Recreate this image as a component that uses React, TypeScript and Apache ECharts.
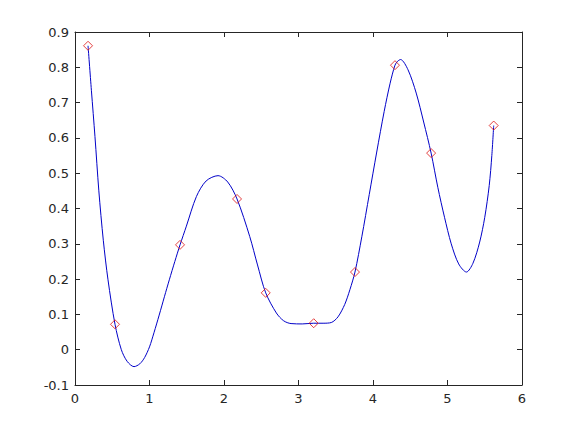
import React, { useEffect, useRef } from "react";
import * as echarts from "echarts";

const markerX = [0.175, 0.537, 1.41, 2.175, 2.56, 3.204, 3.758, 4.295, 4.78, 5.62];
const markerY = [0.861, 0.072, 0.297, 0.427, 0.161, 0.075, 0.22, 0.806, 0.557, 0.635];

const curveX = [
  0.175, 0.22, 0.268, 0.32, 0.38, 0.443, 0.537, 0.622, 0.7, 0.792, 0.87, 0.935, 1.0,
  1.06, 1.13, 1.2, 1.266, 1.34, 1.41, 1.495, 1.63, 1.76, 1.92, 2.05, 2.175, 2.345, 2.45,
  2.56, 2.703, 2.8, 2.9, 3.05, 3.204, 3.33, 3.44, 3.53, 3.62, 3.69, 3.758, 3.85, 3.95,
  4.05, 4.15, 4.23, 4.295, 4.33, 4.37, 4.47, 4.58, 4.68, 4.78, 4.87, 4.96, 5.05, 5.15,
  5.254, 5.342, 5.432, 5.5, 5.56, 5.595, 5.62,
];
const curveY = [
  0.861, 0.735, 0.604, 0.45, 0.31, 0.198, 0.072, 0.0, -0.033, -0.048, -0.04, -0.022, 0.008,
  0.048, 0.098, 0.15, 0.198, 0.25, 0.297, 0.35, 0.434, 0.478, 0.493, 0.475, 0.427, 0.321, 0.24,
  0.161, 0.104, 0.082, 0.074, 0.073, 0.075, 0.075, 0.077, 0.093, 0.128, 0.17, 0.22, 0.32, 0.44,
  0.56, 0.675, 0.755, 0.806, 0.817, 0.822, 0.793, 0.727, 0.645, 0.557, 0.46, 0.375, 0.3, 0.243,
  0.22, 0.245, 0.305, 0.375, 0.465, 0.55, 0.635,
];

const xTicks = { min: 0, max: 6, interval: 1 };
const yTicks = { min: -0.1, max: 0.9, interval: 0.1 };

export default function App() {
  const ref = useRef<HTMLDivElement>(null);
  useEffect(() => {
    if (!ref.current) return;
    const chart = echarts.init(ref.current, undefined, { renderer: "svg" });
    const axisColor = "#262626";
    const fmt = (v: number) => String(parseFloat(v.toFixed(1)));
    const labelStyle = {
      color: "#262626",
      fontFamily: "DejaVu Sans",
      fontSize: 13,
    };
    chart.setOption({
      animation: false,
      backgroundColor: "#ffffff",
      grid: { left: 75, right: 55, top: 32, bottom: 48, containLabel: false },
      xAxis: [
        {
          type: "value",
          position: "bottom",
          ...xTicks,
          axisLine: { show: true, onZero: false, lineStyle: { color: axisColor, width: 1 } },
          axisTick: { show: true, inside: true, length: 5, lineStyle: { color: axisColor } },
          axisLabel: { ...labelStyle, margin: 7, formatter: fmt },
          splitLine: { show: false },
        },
        {
          type: "value",
          position: "top",
          ...xTicks,
          axisLine: { show: true, onZero: false, lineStyle: { color: axisColor, width: 1 } },
          axisTick: { show: true, inside: true, length: 5, lineStyle: { color: axisColor } },
          axisLabel: { show: false },
          splitLine: { show: false },
        },
      ],
      yAxis: [
        {
          type: "value",
          position: "left",
          ...yTicks,
          axisLine: { show: true, onZero: false, lineStyle: { color: axisColor, width: 1 } },
          axisTick: { show: true, inside: true, length: 5, lineStyle: { color: axisColor } },
          axisLabel: { ...labelStyle, margin: 6, formatter: fmt },
          splitLine: { show: false },
        },
        {
          type: "value",
          position: "right",
          ...yTicks,
          axisLine: { show: true, onZero: false, lineStyle: { color: axisColor, width: 1 } },
          axisTick: { show: true, inside: true, length: 5, lineStyle: { color: axisColor } },
          axisLabel: { show: false },
          splitLine: { show: false },
        },
      ],
      series: [
        {
          type: "line",
          xAxisIndex: 0,
          yAxisIndex: 0,
          data: curveX.map((x, i) => [x, curveY[i]]),
          smooth: 0.3,
          showSymbol: false,
          lineStyle: { color: "#0000c8", width: 1 },
          z: 2,
        },
        {
          type: "scatter",
          xAxisIndex: 0,
          yAxisIndex: 0,
          data: markerX.map((x, i) => [x, markerY[i]]),
          symbol: "diamond",
          symbolSize: [9, 9],
          itemStyle: { color: "transparent", borderColor: "#dd1111", borderWidth: 1 },
          z: 3,
        },
      ],
    });
    return () => chart.dispose();
  }, []);
  return (
    <div
      ref={ref}
      style={{ position: "fixed", left: 0, top: 0, width: 577, height: 433 }}
    />
  );
}
